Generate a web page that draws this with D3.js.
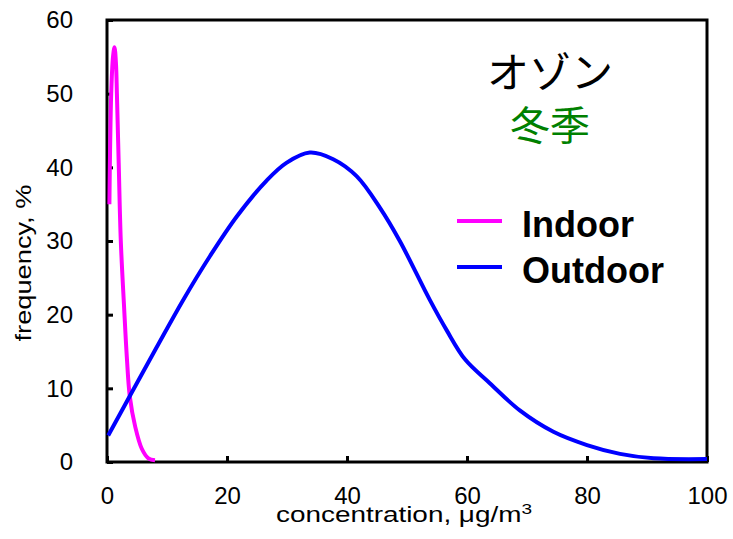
<!DOCTYPE html>
<html>
<head>
<meta charset="utf-8">
<script src="https://cdn.jsdelivr.net/npm/d3@7"></script>
<style>
  body { margin: 0; background: #fff; }
  svg { display: block; font-family: "Liberation Sans", Arial, sans-serif; }
</style>
</head>
<body>
<svg id="chart" width="733" height="539"></svg>
<script>
// values
var indoorX  = [0.4, 0.7, 1.0, 1.25, 1.5, 1.65, 1.95, 2.3, 2.85, 3.3, 3.8, 4.7, 5.8, 6.9, 8.0];
var indoorY  = [35, 50, 55, 56.3, 54, 50, 40.6, 30, 21, 14.3, 8.9, 4.8, 1.8, 0.5, 0.25];
var outdoorX = [0.2, 4.1, 8.3, 12.7, 17.2, 21.6, 26.6, 29.9, 33.8, 37.7, 41.6, 45.5, 48.8, 53.8, 56.6, 59.7, 63.8, 68.8, 74.4, 80, 85.5, 91.1, 100];
var outdoorY = [3.6, 9.4, 15.6, 22, 28, 33.3, 38.2, 40.6, 42, 41.1, 38.8, 34.5, 30, 22, 17.9, 13.9, 10.7, 7.0, 4.1, 2.3, 1.1, 0.5, 0.4];
var xTicks = [0, 20, 40, 60, 80, 100];
var yTicks = [0, 10, 20, 30, 40, 50, 60];
var seriesNames = ["Indoor", "Outdoor"];
var seriesColors = ["#ff00ff", "#0000ff"];
var titleMain = "オゾン", titleSub = "冬季";

var margin = {left: 107, right: 707, top: 20, bottom: 462};

var svg = d3.select("#chart");

var x = d3.scaleLinear().domain([0, 100]).range([margin.left, margin.right]);
var y = d3.scaleLinear().domain([0, 60]).range([margin.bottom, margin.top]);

// axes (ticks point inward)
var xAxis = d3.axisBottom(x).tickValues(xTicks).tickSize(-6).tickPadding(25);
var yAxis = d3.axisLeft(y).tickValues(yTicks).tickSize(-6).tickPadding(34);

var gx = svg.append("g").attr("transform", "translate(0," + margin.bottom + ")").call(xAxis);
var gy = svg.append("g").attr("transform", "translate(" + margin.left + ",0)").call(yAxis);

[gx, gy].forEach(function(g) {
  g.attr("font-size", null).attr("font-family", null);
  g.select(".domain").remove();
  g.selectAll(".tick line").attr("stroke", "#000").attr("stroke-width", 3);
  g.selectAll(".tick text").attr("fill", "#000").style("font-size", "24px");
});

// frame
svg.append("rect")
  .attr("x", margin.left).attr("y", margin.top)
  .attr("width", margin.right - margin.left).attr("height", margin.bottom - margin.top)
  .attr("fill", "none").attr("stroke", "#000").attr("stroke-width", 3);

var line = d3.line()
  .x(function(d) { return x(d[0]); })
  .y(function(d) { return y(d[1]); })
  .curve(d3.curveCatmullRom.alpha(0.5));

var series = [d3.zip(indoorX, indoorY), d3.zip(outdoorX, outdoorY)];

svg.selectAll("path.series")
  .data(series)
  .enter().append("path")
  .attr("class", "series")
  .attr("d", line)
  .attr("fill", "none")
  .attr("stroke", function(d, i) { return seriesColors[i]; })
  .attr("stroke-width", 4);

// axis titles
svg.append("text")
  .attr("x", 404).attr("y", 522)
  .attr("text-anchor", "middle")
  .attr("textLength", 256).attr("lengthAdjust", "spacingAndGlyphs")
  .style("font-size", "22px")
  .html("concentration, μg/m<tspan dy='-8' font-size='15'>3</tspan>");

svg.append("text")
  .attr("transform", "translate(31,263) rotate(-90)")
  .attr("text-anchor", "middle")
  .attr("textLength", 157).attr("lengthAdjust", "spacingAndGlyphs")
  .style("font-size", "22px")
  .text("frequency, %");

// title
svg.append("text")
  .attr("x", 550).attr("y", 88)
  .attr("text-anchor", "middle")
  .style("font-family", "'Noto Sans CJK JP', sans-serif")
  .style("font-size", "42px")
  .attr("fill", "#000")
  .text(titleMain);

svg.append("text")
  .attr("x", 550).attr("y", 140)
  .attr("text-anchor", "middle")
  .style("font-family", "'Noto Sans CJK JP', sans-serif")
  .style("font-size", "40px")
  .attr("fill", "#008000")
  .text(titleSub);

// legend
var legend = svg.selectAll("g.legend")
  .data(seriesNames)
  .enter().append("g")
  .attr("class", "legend")
  .attr("transform", function(d, i) { return "translate(457," + (221 + i * 46) + ")"; });

legend.append("line")
  .attr("x1", 0).attr("x2", 45)
  .attr("stroke", function(d, i) { return seriesColors[i]; })
  .attr("stroke-width", 4);

legend.append("text")
  .attr("x", 65).attr("y", 16)
  .style("font-size", "36px").style("font-weight", "bold")
  .text(function(d) { return d; });
</script>
</body>
</html>
